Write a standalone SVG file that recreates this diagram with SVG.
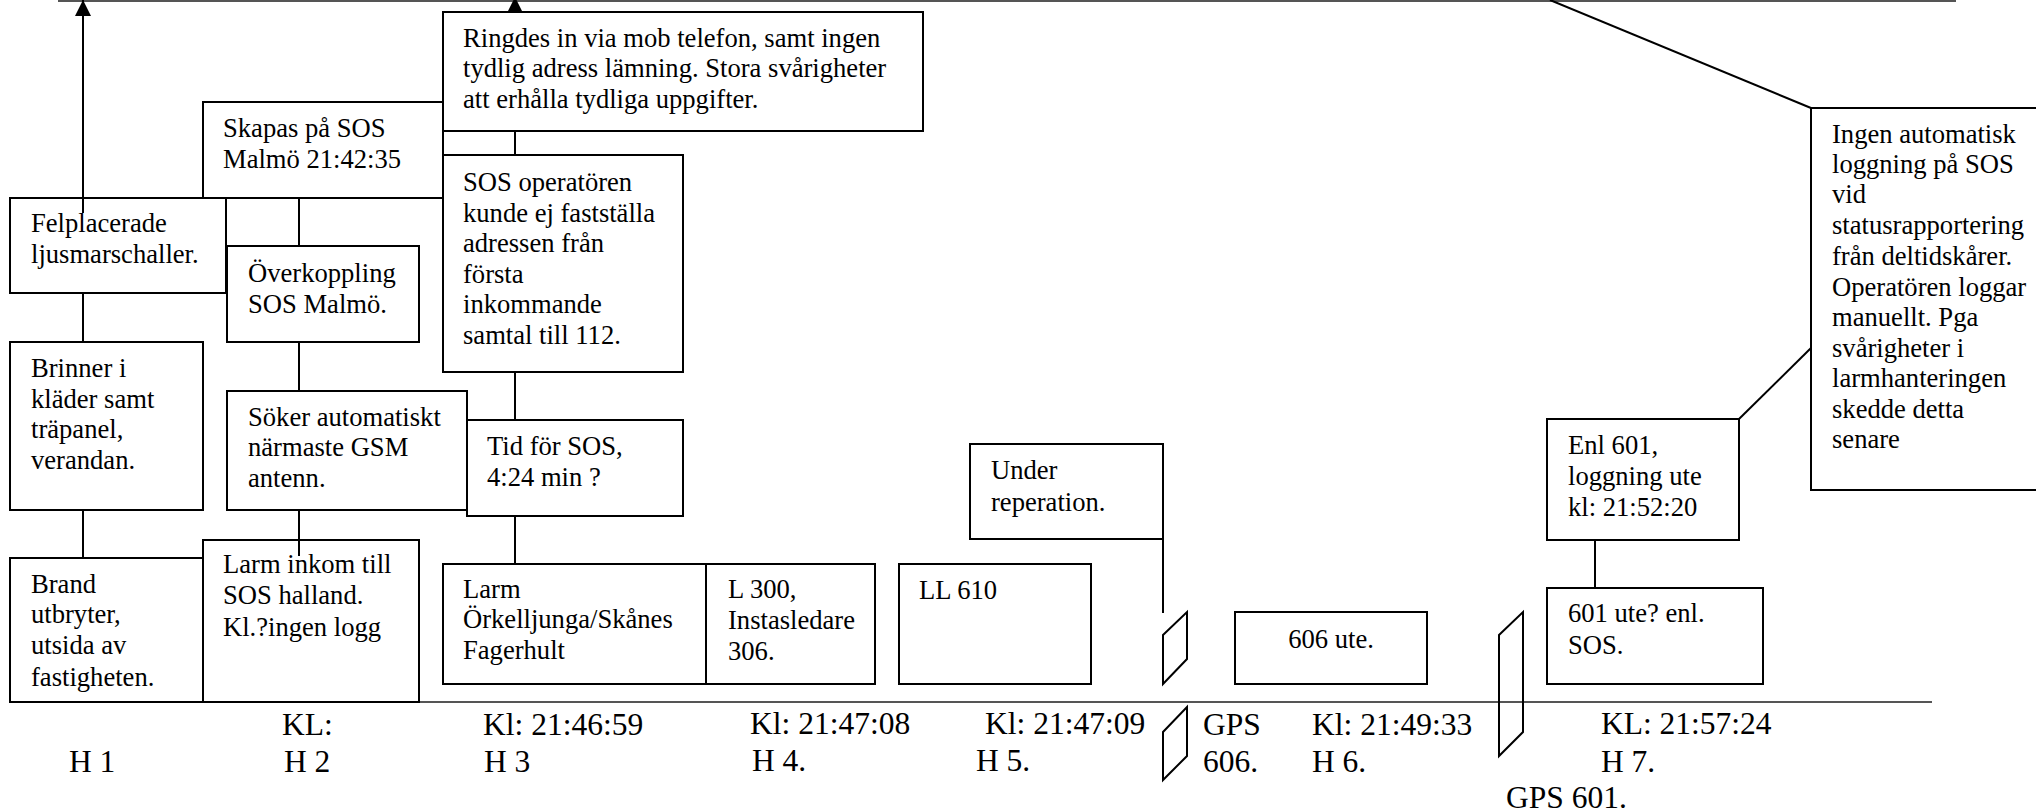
<svg xmlns="http://www.w3.org/2000/svg" width="2036" height="811" viewBox="0 0 2036 811">
<style>
.box{fill:none;stroke:#000;stroke-width:2}
.t{font-family:"Liberation Serif","Times New Roman",serif;font-size:26.6px;fill:#000}
.b{font-family:"Liberation Serif","Times New Roman",serif;font-size:31.5px;fill:#000}
.c{stroke:#000;stroke-width:2;fill:none}
.rule{stroke:#555;stroke-width:2;fill:none}
</style>
<defs>
<marker id="ah" viewBox="0 0 16 16" refX="16" refY="8" markerWidth="16" markerHeight="16" orient="auto" markerUnits="userSpaceOnUse"><path d="M0,0 L16,8 L0,16 z" fill="#000"/></marker>
</defs>
<rect x="0" y="0" width="2036" height="811" fill="#fff"/>

<g id="rules">
<line class="rule" x1="58" y1="1" x2="1956" y2="1"/>
<line class="rule" x1="10" y1="702" x2="1932" y2="702"/>
</g>

<g id="n-felplacerade">
<rect class="box" x="10" y="198" width="216" height="95"/>
<text class="t" x="31" y="232">Felplacerade</text>
<text class="t" x="31" y="263">ljusmarschaller.</text>
</g>
<g id="n-skapas">
<rect class="box" x="203" y="102" width="240" height="96"/>
<text class="t" x="223" y="137">Skapas på SOS</text>
<text class="t" x="223" y="168">Malmö 21:42:35</text>
</g>
<g id="n-ringdes">
<rect class="box" x="443" y="12" width="480" height="119"/>
<text class="t" x="463" y="47">Ringdes in via mob telefon, samt ingen</text>
<text class="t" x="463" y="77">tydlig adress lämning. Stora svårigheter</text>
<text class="t" x="463" y="108">att erhålla tydliga uppgifter.</text>
</g>
<g id="n-sosop">
<rect class="box" x="443" y="155" width="240" height="217"/>
<text class="t" x="463" y="191">SOS operatören</text>
<text class="t" x="463" y="222">kunde ej fastställa</text>
<text class="t" x="463" y="252">adressen från</text>
<text class="t" x="463" y="283">första</text>
<text class="t" x="463" y="313">inkommande</text>
<text class="t" x="463" y="344">samtal till 112.</text>
</g>
<g id="n-overkoppling">
<rect class="box" x="227" y="246" width="192" height="96"/>
<text class="t" x="248" y="282">Överkoppling</text>
<text class="t" x="248" y="313">SOS Malmö.</text>
</g>
<g id="n-brinner">
<rect class="box" x="10" y="342" width="193" height="168"/>
<text class="t" x="31" y="377">Brinner i</text>
<text class="t" x="31" y="408">kläder samt</text>
<text class="t" x="31" y="438">träpanel,</text>
<text class="t" x="31" y="469">verandan.</text>
</g>
<g id="n-soker">
<rect class="box" x="227" y="391" width="240" height="119"/>
<text class="t" x="248" y="426">Söker automatiskt</text>
<text class="t" x="248" y="456">närmaste GSM</text>
<text class="t" x="248" y="487">antenn.</text>
</g>
<g id="n-tid">
<rect class="box" x="467" y="420" width="216" height="96"/>
<text class="t" x="487" y="455">Tid för SOS,</text>
<text class="t" x="487" y="486">4:24 min ?</text>
</g>
<g id="n-brand">
<rect class="box" x="10" y="558" width="193" height="144"/>
<text class="t" x="31" y="593">Brand</text>
<text class="t" x="31" y="623">utbryter,</text>
<text class="t" x="31" y="654">utsida av</text>
<text class="t" x="31" y="686">fastigheten.</text>
</g>
<g id="n-larminkom">
<rect class="box" x="203" y="540" width="216" height="162"/>
<text class="t" x="223" y="573">Larm inkom till</text>
<text class="t" x="223" y="604">SOS halland.</text>
<text class="t" x="223" y="636">Kl.?ingen logg</text>
</g>
<g id="n-larmork">
<rect class="box" x="443" y="564" width="263" height="120"/>
<text class="t" x="463" y="598">Larm</text>
<text class="t" x="463" y="628">Örkelljunga/Skånes</text>
<text class="t" x="463" y="659">Fagerhult</text>
</g>
<g id="n-l300">
<rect class="box" x="706" y="564" width="169" height="120"/>
<text class="t" x="728" y="598">L 300,</text>
<text class="t" x="728" y="629">Instasledare</text>
<text class="t" x="728" y="660">306.</text>
</g>
<g id="n-ll610">
<rect class="box" x="899" y="564" width="192" height="120"/>
<text class="t" x="919" y="599">LL 610</text>
</g>
<g id="n-under">
<rect class="box" x="970" y="444" width="193" height="95"/>
<text class="t" x="991" y="479">Under</text>
<text class="t" x="991" y="511">reperation.</text>
</g>
<g id="n-606ute">
<rect class="box" x="1235" y="612" width="192" height="72"/>
<text class="t" x="1331" y="648" text-anchor="middle">606 ute.</text>
</g>
<g id="n-enl601">
<rect class="box" x="1547" y="419" width="192" height="121"/>
<text class="t" x="1568" y="454">Enl 601,</text>
<text class="t" x="1568" y="485">loggning ute</text>
<text class="t" x="1568" y="516">kl: 21:52:20</text>
</g>
<g id="n-601ute">
<rect class="box" x="1547" y="588" width="216" height="96"/>
<text class="t" x="1568" y="622">601 ute? enl.</text>
<text class="t" x="1568" y="654">SOS.</text>
</g>
<g id="n-ingen">
<rect class="box" x="1811" y="108" width="240" height="382"/>
<text class="t" x="1832" y="143">Ingen automatisk</text>
<text class="t" x="1832" y="173">loggning på SOS</text>
<text class="t" x="1832" y="203">vid</text>
<text class="t" x="1832" y="234">statusrapportering</text>
<text class="t" x="1832" y="265">från deltidskårer.</text>
<text class="t" x="1832" y="296">Operatören loggar</text>
<text class="t" x="1832" y="326">manuellt. Pga</text>
<text class="t" x="1832" y="357">svårigheter i</text>
<text class="t" x="1832" y="387">larmhanteringen</text>
<text class="t" x="1832" y="418">skedde detta</text>
<text class="t" x="1832" y="448">senare</text>
</g>

<g id="gps-markers">
<polygon class="box" points="1163,635 1187,612 1187,659 1163,684"/>
<polygon class="box" points="1163,732 1187,707 1187,756 1163,780"/>
<polygon class="box" points="1499,635 1523,612 1523,732 1499,756"/>
</g>

<g id="labels">
<text class="b" x="69" y="772">H 1</text>
<text class="b" x="282" y="735">KL:</text>
<text class="b" x="284" y="772">H 2</text>
<text class="b" x="483" y="735">Kl: 21:46:59</text>
<text class="b" x="484" y="772">H 3</text>
<text class="b" x="750" y="734">Kl: 21:47:08</text>
<text class="b" x="752" y="771">H 4.</text>
<text class="b" x="985" y="734">Kl: 21:47:09</text>
<text class="b" x="976" y="771">H 5.</text>
<text class="b" x="1203" y="735">GPS</text>
<text class="b" x="1203" y="772">606.</text>
<text class="b" x="1312" y="735">Kl: 21:49:33</text>
<text class="b" x="1312" y="772">H 6.</text>
<text class="b" x="1601" y="734">KL: 21:57:24</text>
<text class="b" x="1601" y="772">H 7.</text>
<text class="b" x="1506" y="808">GPS 601.</text>
</g>

<g id="connectors">
<line class="c" x1="83" y1="213" x2="83" y2="0" marker-end="url(#ah)"/>
<line class="c" x1="515" y1="12" x2="515" y2="-3" marker-end="url(#ah)"/>
<line class="c" x1="515" y1="131" x2="515" y2="155"/>
<line class="c" x1="299" y1="198" x2="299" y2="246"/>
<line class="c" x1="83" y1="293" x2="83" y2="342"/>
<line class="c" x1="299" y1="342" x2="299" y2="391"/>
<line class="c" x1="515" y1="372" x2="515" y2="420"/>
<line class="c" x1="83" y1="510" x2="83" y2="558"/>
<line class="c" x1="299" y1="510" x2="299" y2="556"/>
<line class="c" x1="515" y1="516" x2="515" y2="564"/>
<line class="c" x1="1163" y1="539" x2="1163" y2="613"/>
<line class="c" x1="1595" y1="540" x2="1595" y2="588"/>
<line class="c" x1="1739" y1="419" x2="1811" y2="348"/>
<line class="c" x1="1550" y1="0" x2="1811" y2="108"/>
</g>
</svg>
